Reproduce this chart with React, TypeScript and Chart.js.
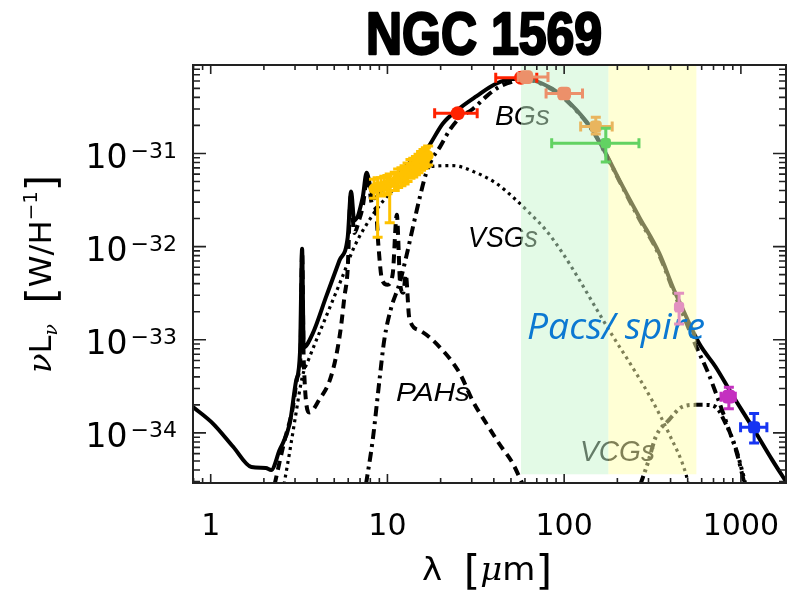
import React, { useEffect, useRef } from "react";
import { Chart, registerables } from "chart.js";

Chart.register(...registerables);

// ---------- axes ----------
const X_MIN = 0.794;
const X_MAX = 1800;
const Y_MIN = 2.9e-35;
const Y_MAX = 8.9e-31;
const X_TICKS = [1, 10, 100, 1000];
const X_TICK_LABELS = ["1", "10", "100", "1000"];
const Y_TICKS = [1e-31, 1e-32, 1e-33, 1e-34];
const Y_TICK_EXPONENTS = ["\u221231", "\u221232", "\u221233", "\u221234"];
const MINOR_MANTISSAS = [2, 3, 4, 5, 6, 7, 8, 9];
const X_DECADES = [0.1, 1, 10, 100, 1000];
const Y_DECADES = [1e-35, 1e-34, 1e-33, 1e-32, 1e-31];

// ---------- model curves (lambda in micron, nu L_nu in W/H) ----------
const totalLambda = [0.794, 1.03, 1.34, 1.7, 2.05, 2.2, 2.45, 2.8, 3.04, 3.2, 3.29, 3.36, 3.78, 4.5, 5.35, 5.96, 6.23, 6.49, 7.25, 7.62, 8.07, 8.43, 9.5, 11.3, 13, 15, 16.6, 20.6, 25, 31.8, 41.1, 51.3, 60.9, 75.5, 93.9, 116.9, 145, 172, 206, 265, 345, 419, 447, 581, 720, 890, 1157, 1506, 1800];
const totalLum = [1.9e-34, 1.26e-34, 7.1e-35, 4.3e-35, 4.2e-35, 4.0e-35, 6.5e-35, 1.26e-34, 3.6e-34, 7.3e-34, 9.5e-33, 8.3e-34, 1.17e-33, 2.9e-33, 7.1e-33, 1.26e-32, 3.9e-32, 1.9e-32, 3.4e-32, 6.2e-32, 4.1e-32, 3.3e-32, 4.3e-32, 5.6e-32, 7.6e-32, 9.3e-32, 1.1e-31, 2.1e-31, 2.95e-31, 4.1e-31, 5.6e-31, 6.3e-31, 6.3e-31, 5.6e-31, 4.4e-31, 2.95e-31, 1.78e-31, 1.0e-31, 5.1e-32, 2.1e-32, 8.5e-33, 3.4e-33, 2.6e-33, 9.1e-34, 5.1e-34, 2.6e-34, 1.17e-34, 5.1e-35, 3.0e-35];

const pahLambda = [2.3, 2.6, 2.9, 3.1, 3.22, 3.29, 3.36, 3.62, 4.13, 4.7, 5.12, 5.46, 5.71, 5.95, 6.2, 6.5, 6.9, 7.25, 7.7, 8.2, 8.6, 8.9, 9.3, 10.0, 10.7, 11.3, 11.8, 12.3, 12.7, 13.3, 15.2, 19.8, 25.6, 30.4, 36.3, 43, 51.2, 58.3];
const pahLum = [2.8e-35, 7.9e-35, 1.78e-34, 4.0e-34, 6.5e-34, 8.9e-33, 6.0e-34, 1.66e-34, 2.3e-34, 3.6e-34, 6.6e-34, 1.38e-33, 2.9e-33, 5.5e-33, 3.5e-32, 1.4e-32, 1.9e-32, 2.7e-32, 5.6e-32, 2.8e-32, 2.5e-32, 1.0e-32, 4.5e-33, 3.9e-33, 5.0e-33, 2.2e-32, 4.0e-33, 3.2e-33, 5.0e-33, 1.7e-33, 1.26e-33, 8.3e-34, 4.4e-34, 2.2e-34, 1.26e-34, 7.6e-35, 4.7e-35, 2.8e-35];

const vsgLambda = [2.6, 2.8, 3.0, 3.3, 3.6, 4.5, 5.5, 6.5, 8.0, 10, 13, 17.2, 23.5, 31.8, 41.1, 51.3, 63.6, 78.9, 98.1, 121.8, 151, 187, 243, 316, 392, 489, 505];
const vsgLum = [2.8e-35, 6.3e-35, 1.4e-34, 4.0e-34, 6.3e-34, 1.78e-33, 4.5e-33, 1.0e-32, 2.0e-32, 3.5e-32, 5.5e-32, 7.2e-32, 7.4e-32, 6.2e-32, 4.8e-32, 3.4e-32, 2.3e-32, 1.5e-32, 8.5e-33, 4.4e-33, 2.2e-33, 1.12e-33, 5.1e-34, 2.2e-34, 9.8e-35, 3.6e-35, 2.75e-35];

const bgLambda = [7.56, 8.25, 9.0, 9.6, 10.5, 11.7, 12.8, 13.9, 15.2, 16.5, 18.0, 19.8, 22.5, 25.6, 30.4, 36.3, 43, 51.2, 61, 75.5, 93.9, 116.9, 145, 172, 206, 265, 345, 419, 450, 555, 650, 750, 850, 950, 1050];
const bgLum = [2.8e-35, 8.3e-35, 3.6e-34, 1.0e-33, 2.2e-33, 4.0e-33, 7.9e-33, 1.58e-32, 3.3e-32, 6.0e-32, 8.9e-32, 1.17e-31, 1.78e-31, 2.4e-31, 3.0e-31, 4.1e-31, 5.2e-31, 5.9e-31, 6.2e-31, 5.5e-31, 4.3e-31, 2.9e-31, 1.74e-31, 9.8e-32, 5.0e-32, 2.0e-32, 8.1e-33, 3.2e-33, 2.3e-33, 8.7e-34, 4.5e-34, 2.2e-34, 1.12e-34, 6.0e-35, 2.8e-35];

const vcgLambda = [270, 300, 330, 392, 464, 555, 630, 720, 820, 930, 1013, 1060];
const vcgLum = [2.8e-35, 5.0e-35, 9.1e-35, 1.38e-34, 1.9e-34, 2.0e-34, 2.0e-34, 1.9e-34, 1.26e-34, 7.1e-35, 4.0e-35, 2.8e-35];

// ---------- observations ----------
const irsLambda = [8.4, 8.8, 9.2, 9.6, 10.0, 10.3, 11.0, 11.5, 12.0, 12.5, 13.0, 13.5, 14.0, 14.5, 15.0, 15.5, 16.0, 16.5, 17.0];
const irsLum = [4.2e-32, 4.4e-32, 4.4e-32, 4.5e-32, 4.6e-32, 4.8e-32, 5.0e-32, 5.4e-32, 5.6e-32, 5.9e-32, 6.3e-32, 6.8e-32, 7.1e-32, 7.4e-32, 7.8e-32, 8.3e-32, 8.7e-32, 9.1e-32, 9.5e-32];
const irsLow = [3.3e-32, 1.26e-32, 3.5e-32, 3.6e-32, 3.7e-32, 1.8e-32, 4.0e-32, 4.3e-32, 4.5e-32, 4.7e-32, 5.0e-32, 5.4e-32, 5.6e-32, 5.9e-32, 6.2e-32, 6.6e-32, 6.9e-32, 7.2e-32, 7.5e-32];
const irsHigh = [5.3e-32, 5.5e-32, 5.5e-32, 5.7e-32, 5.8e-32, 6.0e-32, 6.3e-32, 6.8e-32, 7.0e-32, 7.4e-32, 7.9e-32, 8.6e-32, 8.9e-32, 9.3e-32, 9.8e-32, 1.05e-31, 1.1e-31, 1.15e-31, 1.2e-31];

const irasLambda = [25, 57];
const irasLum = [2.7e-31, 6.5e-31];
const irasXLow = [18.5, 41];
const irasXHigh = [32.2, 70];

const pacsLambda = [61, 100];
const pacsLum = [6.6e-31, 4.4e-31];
const pacsXLow = [55, 79];
const pacsXHigh = [81, 127];

const p160Lambda = [151];
const p160Lum = [1.95e-31];
const p160XLow = [124];
const p160XHigh = [187];
const p160YLow = [1.62e-31];
const p160YHigh = [2.45e-31];

const mipsLambda = [172];
const mipsLum = [1.29e-31];
const mipsXLow = [85];
const mipsXHigh = [265];
const mipsYLow = [8.1e-32];
const mipsYHigh = [1.86e-31];

const spireLambda = [447];
const spireLum = [2.24e-33];
const spireXLow = [432];
const spireXHigh = [462];
const spireYLow = [1.48e-33];
const spireYHigh = [3.16e-33];

const s870Lambda = [855];
const s870Lum = [2.45e-34];
const s870XLow = [772];
const s870XHigh = [930];
const s870YLow = [1.82e-34];
const s870YHigh = [3.1e-34];

const mmLambda = [1188];
const mmLum = [1.15e-34];
const mmXLow = [996];
const mmXHigh = [1403];
const mmYLow = [7.8e-35];
const mmYHigh = [1.62e-34];

// ---------- shaded PACS / SPIRE bands ----------
const BAND_FROM = [57, 178];
const BAND_TO = [178, 560];
const BAND_COLORS = ["rgba(200,245,205,0.5)", "rgba(255,255,172,0.5)"];
const BAND_BOTTOM = 3.6e-35;

// ---------- component labels ----------
const COMP_LABELS = ["BGs", "VSGs", "PAHs", "VCGs"];

const pts = (xs: number[], ys: number[]) => xs.map((x, i) => ({ x, y: ys[i] }));
const pairs = (a: number[], b: number[]) => a.map((v, i) => [v, b[i]]);

type Run = { t: string; font: string; dy?: number };
function drawRuns(ctx: CanvasRenderingContext2D, runs: Run[], x: number, y: number, width?: number, stroke?: number) {
  const widths = runs.map((r) => {
    ctx.font = r.font;
    return ctx.measureText(r.t).width;
  });
  const total = widths.reduce((a, b) => a + b, 0);
  const sx = width ? width / total : 1;
  ctx.save();
  ctx.translate(x, y);
  ctx.scale(sx, 1);
  ctx.textAlign = "left";
  ctx.textBaseline = "alphabetic";
  let cx = 0;
  runs.forEach((r, i) => {
    ctx.font = r.font;
    ctx.fillText(r.t, cx, r.dy || 0);
    if (stroke) {
      ctx.lineWidth = stroke;
      ctx.lineJoin = "round";
      ctx.strokeStyle = ctx.fillStyle as string;
      ctx.strokeText(r.t, cx, r.dy || 0);
    }
    cx += widths[i];
  });
  ctx.restore();
}

const sedPlugin = {
  id: "sedDecor",
  beforeDatasetsDraw(chart: any) {
    const ctx = chart.ctx as CanvasRenderingContext2D;
    ctx.save();
    ctx.fillStyle = "#000";
    const f = (s: number) => `italic ${s}px "Liberation Sans", Arial, sans-serif`;
    drawRuns(ctx, [{ t: COMP_LABELS[0], font: f(28) }], 495, 125, 55);
    drawRuns(ctx, [{ t: COMP_LABELS[1], font: f(30) }], 468, 247, 70);
    drawRuns(ctx, [{ t: COMP_LABELS[2], font: f(26) }], 396, 401, 74);
    drawRuns(ctx, [{ t: COMP_LABELS[3], font: f(30) }], 580, 461, 75);
    ctx.restore();
  },
  beforeDatasetDraw(chart: any, args: any) {
    const ds = chart.data.datasets[args.index] as any;
    if (!ds.errX && !ds.errY) return;
    const ctx = chart.ctx as CanvasRenderingContext2D;
    const xs = chart.scales.x, ys = chart.scales.y;
    const a = chart.chartArea;
    ctx.save();
    ctx.beginPath();
    ctx.rect(a.left, a.top, a.right - a.left, a.bottom - a.top);
    ctx.clip();
    ctx.strokeStyle = ds.borderColor;
    ctx.lineWidth = ds.errWidth || 3;
    const cap = ds.capSize || 5;
    ds.data.forEach((p: any, i: number) => {
      const px = xs.getPixelForValue(p.x);
      const py = ys.getPixelForValue(p.y);
      ctx.beginPath();
      if (ds.errX && ds.errX[i]) {
        const x1 = xs.getPixelForValue(ds.errX[i][0]);
        const x2 = xs.getPixelForValue(ds.errX[i][1]);
        ctx.moveTo(x1, py); ctx.lineTo(x2, py);
        ctx.moveTo(x1, py - cap); ctx.lineTo(x1, py + cap);
        ctx.moveTo(x2, py - cap); ctx.lineTo(x2, py + cap);
      }
      if (ds.errY && ds.errY[i]) {
        const y1 = ys.getPixelForValue(ds.errY[i][0]);
        const y2 = ys.getPixelForValue(ds.errY[i][1]);
        ctx.moveTo(px, y1); ctx.lineTo(px, y2);
        ctx.moveTo(px - cap, y1); ctx.lineTo(px + cap, y1);
        ctx.moveTo(px - cap, y2); ctx.lineTo(px + cap, y2);
      }
      ctx.stroke();
    });
    ctx.restore();
  },
  afterDatasetDraw(chart: any, args: any) {
    const ds = chart.data.datasets[args.index] as any;
    if (!ds.overlayAfter) return;
    const ctx = chart.ctx as CanvasRenderingContext2D;
    const xs = chart.scales.x, ys = chart.scales.y;
    const a = chart.chartArea;
    ctx.save();
    const yb = ys.getPixelForValue(BAND_BOTTOM);
    BAND_FROM.forEach((from, i) => {
      const x1 = xs.getPixelForValue(from);
      const x2 = xs.getPixelForValue(BAND_TO[i]);
      ctx.fillStyle = BAND_COLORS[i];
      ctx.fillRect(x1, a.top, x2 - x1, yb - a.top);
    });
    ctx.fillStyle = "#0B78D2";
    drawRuns(ctx, [{ t: "Pacs/ spire", font: 'italic 36px "Open Sans", "DejaVu Sans", sans-serif' }], 527, 339, 178);
    ctx.restore();
  },
  afterDraw(chart: any) {
    const ctx = chart.ctx as CanvasRenderingContext2D;
    const xs = chart.scales.x, ys = chart.scales.y;
    const a = chart.chartArea;
    ctx.save();
    // frame
    ctx.strokeStyle = "#222";
    ctx.lineWidth = 2;
    ctx.strokeRect(a.left, a.top, a.right - a.left, a.bottom - a.top);
    ctx.lineWidth = 1.6;
    ctx.beginPath();
    const xTick = (v: number, len: number) => {
      if (v < X_MIN || v > X_MAX) return;
      const px = xs.getPixelForValue(v);
      ctx.moveTo(px, a.bottom); ctx.lineTo(px, a.bottom - len);
      ctx.moveTo(px, a.top); ctx.lineTo(px, a.top + len);
    };
    const yTick = (v: number, len: number) => {
      if (v < Y_MIN || v > Y_MAX) return;
      const py = ys.getPixelForValue(v);
      ctx.moveTo(a.left, py); ctx.lineTo(a.left + len, py);
      ctx.moveTo(a.right, py); ctx.lineTo(a.right - len, py);
    };
    X_TICKS.forEach((v) => xTick(v, 9));
    X_DECADES.forEach((d) => MINOR_MANTISSAS.forEach((m) => xTick(d * m, 5)));
    Y_TICKS.forEach((v) => yTick(v, 13));
    Y_DECADES.forEach((d) => MINOR_MANTISSAS.forEach((m) => yTick(d * m, 7)));
    ctx.stroke();

    ctx.fillStyle = "#000";
    // x tick labels
    ctx.font = '30px "DejaVu Sans", sans-serif';
    ctx.textAlign = "center";
    ctx.textBaseline = "alphabetic";
    X_TICKS.forEach((v, i) => {
      ctx.fillText(X_TICK_LABELS[i], xs.getPixelForValue(v), 535);
    });
    // y tick labels
    Y_TICKS.forEach((v, i) => {
      const py = ys.getPixelForValue(v);
      ctx.textAlign = "left";
      ctx.font = '22px "DejaVu Sans", sans-serif';
      const we = ctx.measureText(Y_TICK_EXPONENTS[i]).width;
      const ex = 177 - we;
      ctx.fillText(Y_TICK_EXPONENTS[i], ex, py + 4.5);
      ctx.font = '33px "DejaVu Sans", sans-serif';
      const w10 = ctx.measureText("10").width;
      ctx.fillText("10", ex - 3 - w10, py + 14.5);
    });

    // x title
    drawRuns(ctx, [
      { t: "\u03bb", font: '32px "DejaVu Sans", sans-serif' },
      { t: "  ", font: '32px "DejaVu Sans", sans-serif' },
      { t: "[", font: '40px "DejaVu Sans", sans-serif', dy: 4 },
      { t: "\u03bc", font: 'italic 32px "DejaVu Serif", serif' },
      { t: "m", font: '32px "DejaVu Sans", sans-serif' },
      { t: "]", font: '40px "DejaVu Sans", sans-serif', dy: 4 },
    ], 422, 580, 130);

    // y title
    ctx.save();
    ctx.translate(51, 373);
    ctx.rotate(-Math.PI / 2);
    drawRuns(ctx, [
      { t: "\u03bd", font: 'italic 31px "DejaVu Serif", serif' },
      { t: "L", font: '31px "DejaVu Sans", sans-serif' },
      { t: "\u03bd", font: 'italic 18px "DejaVu Serif", serif', dy: 6 },
      { t: "  ", font: '31px "DejaVu Sans", sans-serif' },
      { t: "[", font: '40px "DejaVu Sans", sans-serif', dy: 4 },
      { t: "W/H", font: '31px "DejaVu Sans", sans-serif' },
      { t: "\u22121", font: '19px "DejaVu Sans", sans-serif', dy: -14 },
      { t: "]", font: '40px "DejaVu Sans", sans-serif', dy: 4 },
    ], 0, 0, 198);
    ctx.restore();

    // title
    ctx.fillStyle = "#000";
    drawRuns(ctx, [{ t: "NGC 1569", font: 'bold 60px "Liberation Sans Narrow", "Liberation Sans", Arial, sans-serif' }], 366, 54, 236, 2.5);
    ctx.restore();
  },
};

function curve(label: string, xs: number[], ys: number[], dash: number[], width: number, extra: any = {}) {
  return {
    label,
    data: pts(xs, ys),
    showLine: true,
    borderColor: "#000",
    backgroundColor: "#000",
    borderWidth: width,
    borderDash: dash,
    borderCapStyle: "butt",
    pointRadius: 0,
    cubicInterpolationMode: "monotone",
    order: 10,
    ...extra,
  };
}

function obs(label: string, xs: number[], ys: number[], color: string, style: string, radius: number, errX: any, errY: any, extra: any = {}) {
  return {
    label,
    data: pts(xs, ys),
    showLine: false,
    borderColor: color,
    backgroundColor: color,
    pointStyle: style,
    pointRadius: radius,
    pointBorderWidth: 0,
    errX,
    errY,
    order: 0,
    ...extra,
  };
}

export default function App() {
  const ref = useRef<HTMLCanvasElement>(null);
  useEffect(() => {
    const datasets: any[] = [
      curve("Total", totalLambda, totalLum, [], 4, { overlayAfter: true }),
      curve("BGs", bgLambda, bgLum, [10, 5, 3, 5], 4),
      curve("VSGs", vsgLambda, vsgLum, [3, 4], 3.2),
      curve("PAHs", pahLambda, pahLum, [9, 6], 4),
      curve("VCGs", vcgLambda, vcgLum, [9, 4, 3, 4, 3, 4, 3, 4], 4),
      obs("IRS", irsLambda, irsLum, "#FFC200", "circle", 5.5, null, pairs(irsLow, irsHigh), { capSize: 5, order: 3 }),
      obs("IRAS", irasLambda, irasLum, "#FF2200", "circle", 7, pairs(irasXLow, irasXHigh), null, { order: 2 }),
      obs("PACS", pacsLambda, pacsLum, "#EC906A", "rectRounded", 8, pairs(pacsXLow, pacsXHigh), null, { order: 1 }),
      obs("PACS160", p160Lambda, p160Lum, "#E9B55E", "rectRounded", 7, pairs(p160XLow, p160XHigh), pairs(p160YLow, p160YHigh), { order: 1 }),
      obs("MIPS160", mipsLambda, mipsLum, "#62D262", "rectRounded", 6, pairs(mipsXLow, mipsXHigh), pairs(mipsYLow, mipsYHigh)),
      obs("SPIRE500", spireLambda, spireLum, "#E291C0", "rectRounded", 6, pairs(spireXLow, spireXHigh), pairs(spireYLow, spireYHigh)),
      obs("870", s870Lambda, s870Lum, "#C430C0", "rectRounded", 8, pairs(s870XLow, s870XHigh), pairs(s870YLow, s870YHigh)),
      obs("1.2mm", mmLambda, mmLum, "#1634F2", "rectRounded", 7, pairs(mmXLow, mmXHigh), pairs(mmYLow, mmYHigh)),
    ];
    const chart = new Chart(ref.current as HTMLCanvasElement, {
      type: "scatter",
      data: { datasets },
      options: {
        animation: false,
        responsive: false,
        devicePixelRatio: 1,
        events: [],
        layout: { padding: { left: 193, top: 65, right: 7, bottom: 109 } },
        scales: {
          x: { type: "logarithmic", min: X_MIN, max: X_MAX, display: false },
          y: { type: "logarithmic", min: Y_MIN, max: Y_MAX, display: false },
        },
        plugins: { legend: { display: false }, tooltip: { enabled: false } },
      } as any,
      plugins: [sedPlugin as any],
    });
    return () => chart.destroy();
  }, []);
  return (
    <div style={{ position: "fixed", left: 0, top: 0, width: 794, height: 592, background: "#fff" }}>
      <canvas ref={ref} width={794} height={592} style={{ display: "block", width: 794, height: 592 }} />
    </div>
  );
}
